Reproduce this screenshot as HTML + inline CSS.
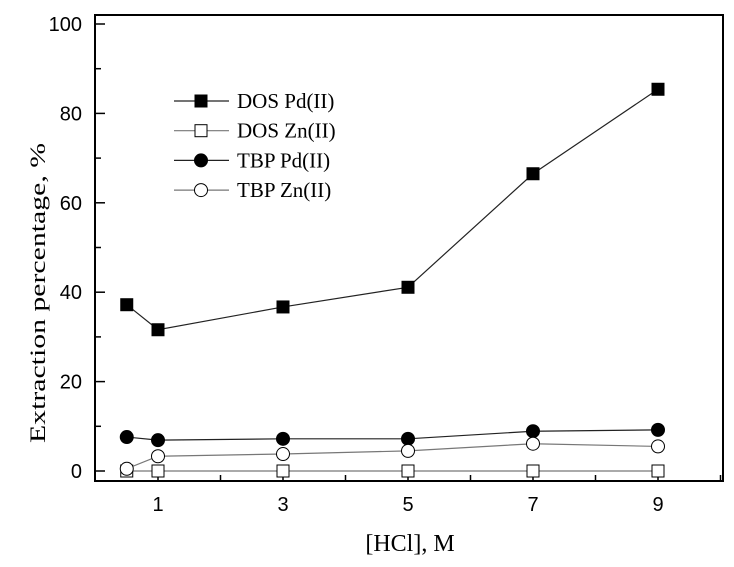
<!DOCTYPE html>
<html><head><meta charset="utf-8"><style>
body{margin:0;background:#fff}
svg text{font-family:"Liberation Sans",Arial,sans-serif}
.serif{font-family:"Liberation Serif","Times New Roman",serif}
</style></head><body>
<svg id="c" width="734" height="562" viewBox="0 0 734 562" xmlns="http://www.w3.org/2000/svg"></svg>
<script>
const xValues=[0.5,1,3,5,7,9];
const dosPd=[37.2,31.6,36.7,41.1,66.5,85.4];
const dosZn=[0,0,0,0,0,0];
const tbpPd=[7.6,6.9,7.2,7.2,8.9,9.2];
const tbpZn=[0.5,3.3,3.8,4.5,6.1,5.5];
const yTicks=[0,20,40,60,80,100];
const xTicks=[1,3,5,7,9];
const legendLabels=["DOS Pd(II)","DOS Zn(II)","TBP Pd(II)","TBP Zn(II)"];
const svg=document.getElementById('c');
const NS='http://www.w3.org/2000/svg';
const X=v=>158+(v-1)*62.5;
const Y=v=>471-v*4.47;
function mk(t,a,p){const e=document.createElementNS(NS,t);for(const k in a)e.setAttribute(k,a[k]);(p||svg).appendChild(e);return e;}
let f=mk('rect',{x:95,y:15,width:628,height:466,fill:'none',stroke:'#000','stroke-width':2});


for(let v=0;v<=100;v+=10){const major=v%20===0;mk('line',{x1:95,x2:95+(major?10:6),y1:Y(v),y2:Y(v),stroke:'#000','stroke-width':1.5});}
yTicks.forEach(v=>{const t=mk('text',{x:82,y:Y(v)+7,'text-anchor':'end','font-size':20});t.textContent=v;

});
for(let v=1;v<=10;v++){const major=v%2===1;mk('line',{x1:X(v),x2:X(v),y1:481,y2:481-(major?10:6),stroke:'#000','stroke-width':1.5});}
xTicks.forEach(v=>{const t=mk('text',{x:X(v),y:511,'text-anchor':'middle','font-size':20});t.textContent=v;

});
let xt=mk('text',{x:410,y:551,'text-anchor':'middle','font-size':24,class:'serif'});xt.textContent='[HCl], M';


let yt=mk('text',{x:0,y:0,'text-anchor':'middle','font-size':22,class:'serif',textLength:300,lengthAdjust:'spacingAndGlyphs',transform:'translate(45,293) rotate(-90)'});yt.textContent='Extraction percentage, %';


const series=[[dosPd,'sq',true,'#222'],[dosZn,'sq',false,'#777'],[tbpPd,'ci',true,'#222'],[tbpZn,'ci',false,'#777']];
function marker(g,t,filled,x,y){if(t==='sq')return mk('rect',{x:x-6,y:y-6,width:12,height:12,fill:filled?'#000':'#fff',stroke:'#000','stroke-width':1},g);return mk('circle',{cx:x,cy:y,r:6.5,fill:filled?'#000':'#fff',stroke:'#000','stroke-width':1},g);}
series.forEach((s,i)=>{const g=mk('g',{});


mk('polyline',{points:xValues.map((x,j)=>X(x)+','+Y(s[0][j])).join(' '),fill:'none',stroke:s[3],'stroke-width':1.2},g);
xValues.forEach((x,j)=>marker(g,s[1],s[2],X(x),Y(s[0][j])));
const ly=101+i*29.7;const lg=mk('g',{});


mk('line',{x1:174,x2:229,y1:ly,y2:ly,stroke:s[3],'stroke-width':1.2},lg);
marker(lg,s[1],s[2],201,ly);
const t=mk('text',{x:237,y:ly+7,'font-size':21,class:'serif'},lg);t.textContent=legendLabels[i];});
</script>
</body></html>
